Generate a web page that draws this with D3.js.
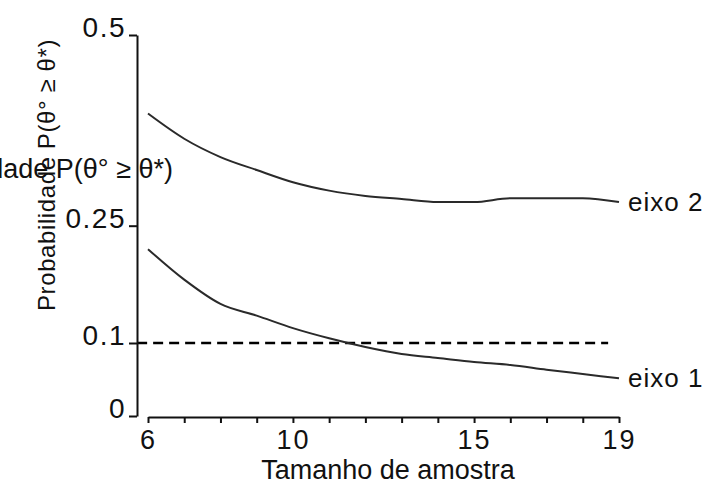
<!DOCTYPE html>
<html>
<head>
<meta charset="utf-8">
<script src="https://cdn.jsdelivr.net/npm/d3@7"></script>
<style>
  body { margin: 0; background: #fff; }
  svg text { font-family: "Liberation Sans", Arial, sans-serif; fill: #111; }
</style>
</head>
<body>
<div id="chart"></div>
<script>
// sample sizes and the two curves
var sampleSizes = [6, 7, 8, 9, 10, 11, 12, 13, 14, 15, 16, 17, 18, 19];
var eixo2 = [0.397, 0.364, 0.340, 0.323, 0.307, 0.296, 0.289, 0.285, 0.281, 0.281, 0.286, 0.286, 0.286, 0.281];
var eixo1 = [0.220, 0.181, 0.150, 0.135, 0.119, 0.106, 0.0945, 0.0849, 0.0795, 0.0740, 0.0699, 0.0634, 0.0575, 0.0516];
var seriesNames = ["eixo 1", "eixo 2"];

var xLabels = [6, 10, 15, 19];
var yTicks = [0, 0.1, 0.25, 0.5];
var yTickLabels = ["0", "0.1", "0.25", "0.5"];

// reference (dashed) line
var refValue = 0.1;
var refFrom = 5.7;
var refTo = 18.7;

var xTitle = "Tamanho de amostra";
var yTitle = "Probabilidade P(\u03b8\u00b0 \u2265 \u03b8*)";

var w = 707;
var h = 488;

var svg = d3
  .select("#chart")
  .append("svg")
  .attr("width", w)
  .attr("height", h);

var xScale = d3.scaleLinear().domain([6, 19]).range([148, 619]);

// the original axis is not quite even, so use a piecewise scale through the ticks
var yScale = d3.scaleLinear().domain(yTicks).range([416, 343, 225.7, 35]);

// y title (rotated) plus the stray horizontal copy seen in the original
svg
  .append("text")
  .attr("transform", "translate(55,175) rotate(-90)")
  .attr("text-anchor", "middle")
  .style("font-size", "24px")
  .style("letter-spacing", "0.6px")
  .text(yTitle);

svg
  .append("text")
  .attr("x", 173)
  .attr("y", 178)
  .attr("text-anchor", "end")
  .style("font-size", "27px")
  .text(yTitle);

// dashed reference line
svg
  .append("line")
  .attr("x1", xScale(refFrom))
  .attr("x2", xScale(refTo))
  .attr("y1", yScale(refValue))
  .attr("y2", yScale(refValue))
  .attr("stroke", "#000")
  .attr("stroke-width", 2.5)
  .attr("stroke-dasharray", "10,6");

// curves
var line = d3
  .line()
  .curve(d3.curveMonotoneX)
  .x(function (d) {
    return xScale(d[0]);
  })
  .y(function (d) {
    return yScale(d[1]);
  });

var series = [eixo1, eixo2].map(function (vals, i) {
  return {
    name: seriesNames[i],
    points: sampleSizes.map(function (n, j) {
      return [n, vals[j]];
    }),
  };
});

svg
  .selectAll(".curve")
  .data(series)
  .enter()
  .append("path")
  .attr("class", "curve")
  .attr("d", function (d) {
    return line(d.points);
  })
  .attr("fill", "none")
  .attr("stroke", "#2a2a2a")
  .attr("stroke-width", 2);

svg
  .selectAll(".series-label")
  .data(series)
  .enter()
  .append("text")
  .attr("class", "series-label")
  .attr("x", xScale(19) + 9)
  .attr("y", function (d) {
    return yScale(d.points[d.points.length - 1][1]) + 9;
  })
  .style("font-size", "26px")
  .style("letter-spacing", "1px")
  .text(function (d) {
    return d.name;
  });

// y axis
var yAxis = d3
  .axisLeft(yScale)
  .tickValues(yTicks)
  .tickSize(8)
  .tickSizeOuter(0)
  .tickPadding(3)
  .tickFormat(function (d, i) {
    return yTickLabels[i];
  });

var gy = svg
  .append("g")
  .attr("class", "y-axis")
  .attr("transform", "translate(137,0)")
  .call(yAxis);

gy.select(".domain").attr("stroke", "#111").attr("stroke-width", 2);
gy.selectAll(".tick line").attr("stroke", "#111").attr("stroke-width", 2);
gy.selectAll(".tick text")
  .attr("dy", "0.05em")
  .style("font-size", "28px")
  .style("letter-spacing", "1.5px");

// x axis
var xAxis = d3
  .axisBottom(xScale)
  .tickValues(sampleSizes)
  .tickSize(6)
  .tickSizeOuter(0)
  .tickPadding(7)
  .tickFormat(function (d) {
    return xLabels.indexOf(d) >= 0 ? d : "";
  });

var gx = svg
  .append("g")
  .attr("class", "x-axis")
  .attr("transform", "translate(0,417)")
  .call(xAxis);

gx.select(".domain").attr("stroke", "#111").attr("stroke-width", 2);
gx.selectAll(".tick line").attr("stroke", "#111").attr("stroke-width", 2);
gx.selectAll(".tick text")
  .style("font-size", "27px")
  .style("letter-spacing", "2px");

svg
  .append("text")
  .attr("x", 388)
  .attr("y", 479)
  .attr("text-anchor", "middle")
  .style("font-size", "27px")
  .text(xTitle);
</script>
</body>
</html>
